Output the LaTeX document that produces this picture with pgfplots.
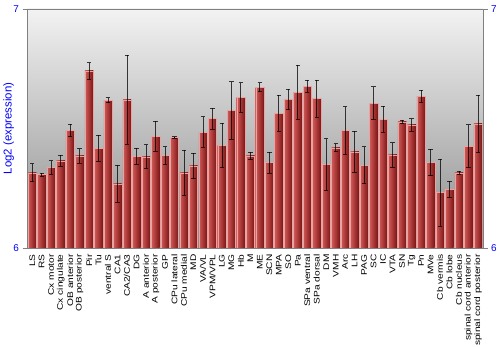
\documentclass[border=0pt]{standalone}
\usepackage{fontspec}
\setmainfont{Liberation Sans}
\usepackage{pgfplots}
\pgfplotsset{compat=1.18}
\usepackage{pgfplotstable}
\definecolor{barL}{HTML}{D25A58}
\definecolor{barM}{HTML}{B52C2C}
\definecolor{barR}{HTML}{7A1414}
\pgfplotstableread{
x y e
0 6.315 0.038
1 6.307 0.006
2 6.337 0.028
3 6.365 0.022
4 6.492 0.026
5 6.385 0.031
6 6.741 0.034
7 6.418 0.055
8 6.618 0.011
9 6.268 0.077
10 6.620 0.187
11 6.383 0.035
12 6.382 0.050
13 6.467 0.063
14 6.387 0.037
15 6.463 0.003
16 6.315 0.094
17 6.343 0.053
18 6.485 0.064
19 6.541 0.044
20 6.429 0.093
21 6.575 0.120
22 6.629 0.062
23 6.385 0.015
24 6.672 0.019
25 6.357 0.044
26 6.564 0.075
27 6.621 0.042
28 6.651 0.113
29 6.676 0.025
30 6.625 0.077
31 6.349 0.108
32 6.419 0.017
33 6.492 0.099
34 6.402 0.086
35 6.346 0.077
36 6.606 0.068
37 6.539 0.055
38 6.390 0.051
39 6.527 0.007
40 6.515 0.026
41 6.635 0.024
42 6.357 0.055
43 6.232 0.140
44 6.245 0.035
45 6.315 0.006
46 6.425 0.090
47 6.520 0.119
}\data
\begin{document}
\begin{tikzpicture}
\begin{axis}[
  scale only axis, width=459pt, height=241pt,
  xmin=-0.5, xmax=47.5, ymin=6, ymax=7,
  axis background/.style={top color=black!5, bottom color=black!45},
  axis line style={black!50},
  xtick={0,...,47},
  xticklabels={LS,RS,Cx motor,Cx cingulate,OB anterior,OB posterior,Pir,Tu,ventral S,CA1,CA2/CA3,DG,A anterior,A posterior,GP,CPu lateral,CPu medial,MD,VA/VL,VPM/VPL,LG,MG,Hb,M,ME,SCN,MPA,SO,Pa,SPa ventral,SPa dorsal,DM,VMH,Arc,LH,PAG,SC,IC,VTA,SN,Tg,Pn,MVe,Cb vermis,Cb lobe,Cb nucleus,spinal cord anterior,spinal cord posterior},
  x tick label style={rotate=90, xscale=1.25, anchor=east, font=\fontsize{8.2}{9}\selectfont, inner sep=1pt},
  major x tick style={draw=none},
  ytick={6,7}, ytick pos=left, tick align=outside,
  major tick length=5pt,
  y tick style={black!50},
  y tick label style={blue, font=\fontsize{10}{12}\selectfont},
  ylabel={Log2 (expression)},
  every axis y label/.style={at={(axis description cs:0,0.5)}, xshift=-19pt, rotate=90, anchor=center, blue, font=\fontsize{11.5}{13}\selectfont},
  /pgf/number format/assume math mode=true,
  ybar, bar width=0.88, bar shift=0pt,
]
\pgfplotsinvokeforeach{0,...,47}{
\addplot[draw=barL!55!white, line width=0.3pt, left color=barL, middle color=barM, right color=barR,
  x filter/.expression={abs(x-#1)<0.1 ? x : nan},
  error bars/.cd, y dir=both, y explicit,
  error bar style={black, opacity=0.75, line width=0.8pt},
  error mark options={rotate=90, mark size=2.2pt, black, opacity=0.75, line width=0.8pt}]
  table[x=x, y=y, y error=e]{\data};
}
\end{axis}
\begin{axis}[
  scale only axis, width=459pt, height=241pt,
  xmin=-0.5, xmax=47.5, ymin=6, ymax=7,
  hide x axis, axis y line*=right,
  axis line style={black!50},
  ytick={6,7}, tick align=outside, major tick length=5pt,
  y tick style={black!50},
  y tick label style={blue, font=\fontsize{10}{12}\selectfont},
  /pgf/number format/assume math mode=true,
]
\addplot[draw=none] coordinates {(0,6.5)};
\end{axis}
\path ([shift={(-27pt,-100pt)}]current axis.south west) rectangle ([shift={(14pt,9pt)}]current axis.north east);
\end{tikzpicture}
\end{document}
